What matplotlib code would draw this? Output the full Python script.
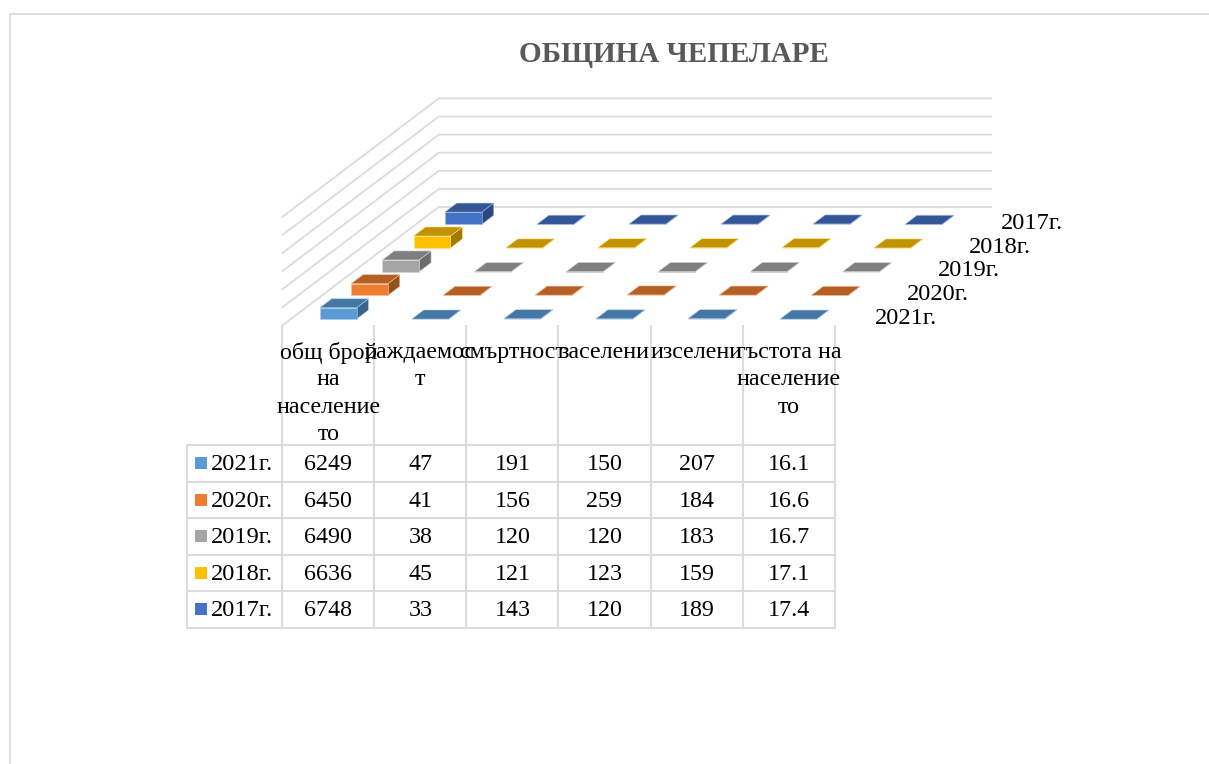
import matplotlib
matplotlib.use("Agg")
import matplotlib.pyplot as plt

plt.rcParams['font.family'] = ['Liberation Serif', 'DejaVu Serif']

title = "ОБЩИНА ЧЕПЕЛАРЕ"
categories = ["общ брой\nна\nнаселение\nто", "раждаемос\nт", "смъртност",
              "заселени", "изселени", "гъстота на\nнаселение\nто"]
# rows as in the table, front series first
years = ["2021г.", "2020г.", "2019г.", "2018г.", "2017г."]
v2021 = [6249, 47, 191, 150, 207, 16.1]
v2020 = [6450, 41, 156, 259, 184, 16.6]
v2019 = [6490, 38, 120, 120, 183, 16.7]
v2018 = [6636, 45, 121, 123, 159, 17.1]
v2017 = [6748, 33, 143, 120, 189, 17.4]
rows = [v2021, v2020, v2019, v2018, v2017]
grid_values = [0, 10000, 20000, 30000, 40000, 50000, 60000]

front_cols = ["#5B9BD5", "#ED7D31", "#A5A5A5", "#FFC000", "#4472C4"]
top_cols = ["#4676A3", "#B55F25", "#7F7F7F", "#C39200", "#335697"]
side_cols = ["#3A6489", "#96501F", "#6B6B6B", "#A27A00", "#2A477F"]
edge_cols = ["#A9CCEA", "#F6BE98", "#D2D2D2", "#FFDF80", "#A1B8E1"]
line_col = "#DCDCDC"


def project(u, v, z=0):
    # category u, depth slot v, value z -> picture coordinates
    return 282.3 + 92.05 * u + 31.3 * v, 325.5 - 23.7 * v - z * 18.1 / 10000


fig = plt.figure(figsize=(12.09, 7.64), dpi=100)
ax = fig.add_axes([0, 0, 1, 1])
ax.set_xlim(0, 1209)
ax.set_ylim(764, 0)
ax.axis("off")

# outer chart frame
ax.plot([10, 10, 1209], [764, 13.5, 13.5], color=line_col, lw=1.3)

ax.text(674, 54, title, ha="center", va="center", fontsize=21,
        fontweight="bold", color="#595959")

# walls
n_cat = len(categories)
n_ser = len(years)
for g in grid_values:
    a = project(0, 0, g)
    b = project(0, n_ser, g)
    c = project(n_cat, n_ser, g)
    ax.plot([a[0], b[0], c[0]], [a[1], b[1], c[1]], color=line_col, lw=1.3, zorder=1)

# bars, back to front
bar_u = 0.315
bar_w = 0.40
bar_v = 0.27
bar_d = 0.38
for i in range(n_ser - 1, -1, -1):
    for j in range(n_cat):
        z = rows[i][j]
        u0, u1 = j + bar_u, j + bar_u + bar_w
        v0, v1 = i + bar_v, i + bar_v + bar_d
        front = [project(u0, v0, 0), project(u1, v0, 0), project(u1, v0, z), project(u0, v0, z)]
        side = [project(u1, v0, 0), project(u1, v1, 0), project(u1, v1, z), project(u1, v0, z)]
        top = [project(u0, v0, z), project(u1, v0, z), project(u1, v1, z), project(u0, v1, z)]
        for face, col in ((side, side_cols[i]), (front, front_cols[i]), (top, top_cols[i])):
            ax.fill([p[0] for p in face], [p[1] for p in face], facecolor=col,
                    edgecolor=edge_cols[i], lw=0.4, zorder=3)

# depth axis labels
for i, y in enumerate(years):
    px, py = project(n_cat, i + 0.5)
    ax.text(px + 25, py + 4.5, y, ha="left", va="center", fontsize=17.6, color="black", zorder=4)

# data table
col_x = [project(u, 0)[0] for u in range(n_cat + 1)]
row_y = [445, 481.5, 518, 554.5, 591, 627.5]
left_x = 186.7
for x in col_x:
    ax.plot([x, x], [326, row_y[-1]], color=line_col, lw=1.5, zorder=2)
ax.plot([left_x, left_x], [row_y[0], row_y[-1]], color=line_col, lw=1.5, zorder=2)
for y in row_y:
    ax.plot([left_x, col_x[-1]], [y, y], color=line_col, lw=1.5, zorder=2)

for j, cat in enumerate(categories):
    cx = (col_x[j] + col_x[j + 1]) / 2
    for k, part in enumerate(cat.split("\n")):
        ax.text(cx, 352.5 + 27.3 * k, part, ha="center", va="center", fontsize=17.3,
                color="black", zorder=4)

for i, y in enumerate(years):
    cy = (row_y[i] + row_y[i + 1]) / 2
    ax.fill([195, 207, 207, 195], [cy - 6, cy - 6, cy + 6, cy + 6],
            facecolor=front_cols[i], edgecolor="none", zorder=3)
    ax.text(211, cy + 1.5, y, ha="left", va="center", fontsize=17.6, color="black", zorder=4)
    for j in range(n_cat):
        cx = (col_x[j] + col_x[j + 1]) / 2
        ax.text(cx, cy + 1.5, str(rows[i][j]), ha="center", va="center", fontsize=17.3,
                color="black", zorder=4)

fig.savefig("out.png", dpi=100)
